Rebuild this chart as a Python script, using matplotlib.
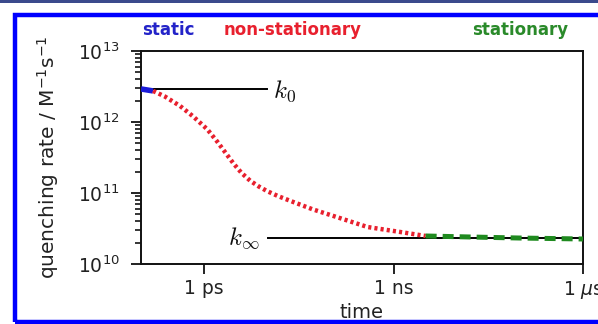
import matplotlib
matplotlib.use("Agg")
import matplotlib.pyplot as plt
from matplotlib.patches import Rectangle
from matplotlib.ticker import LogLocator, NullFormatter

plt.rcParams['mathtext.fontset'] = 'dejavusans'

# ---- data ----
t_static = [1.0e-13, 1.55e-13]
k_static = [2.92e12, 2.74e12]

t_nonstat = [1.55e-13, 2.40e-13, 4.16e-13, 6.68e-13, 1.12e-12, 1.61e-12, 2.20e-12,
             2.90e-12, 3.90e-12, 5.40e-12, 7.40e-12, 1.0e-11, 1.50e-11, 2.59e-11,
             5.20e-11, 1.12e-10, 3.86e-10, 1.29e-9, 3.22e-9]
k_nonstat = [2.74e12, 2.28e12, 1.68e12, 1.20e12, 7.90e11, 5.30e11, 3.65e11,
             2.62e11, 1.92e11, 1.48e11, 1.23e11, 1.06e11, 9.00e10, 7.46e10,
             5.90e10, 4.74e10, 3.32e10, 2.82e10, 2.48e10]

t_stat = [3.22e-9, 1.67e-8, 1.04e-7, 1.0e-6]
k_stat = [2.48e10, 2.40e10, 2.32e10, 2.25e10]

k0 = 2.9e12
k0_t = [1.0e-13, 1.0e-11]
kinf = 2.3e10
kinf_t = [1.04e-11, 1.0e-6]

xticks = [1e-12, 1e-9, 1e-6]
xticklabels = ['1 ps', '1 ns', r'1 $\mu$s']
yticks = [1e10, 1e11, 1e12, 1e13]
yticklabels = [r'$10^{10}$', r'$10^{11}$', r'$10^{12}$', r'$10^{13}$']

regimes = ['static', 'non-stationary', 'stationary']

# ---- figure ----
fig = plt.figure(figsize=(5.98, 3.24), dpi=100)
ax = fig.add_axes([141/598, 1-264/324, (583-141)/598, (264-51)/324])

ax.set_xscale('log')
ax.set_yscale('log')
ax.set_xlim(1e-13, 1e-6)
ax.set_ylim(1e10, 1e13)

ax.plot(k0_t, [k0, k0], color='black', lw=1.4, zorder=2)
ax.plot(kinf_t, [kinf, kinf], color='black', lw=1.4, zorder=2)

ax.plot(t_static, k_static, color='#1a1ad8', lw=4, solid_capstyle='butt', zorder=3)
ax.plot(t_nonstat, k_nonstat, color='#e8202e', lw=3.2, linestyle=(0, (0.7, 0.7)), zorder=3)
ax.plot(t_stat, k_stat, color='#1f8a1f', lw=3.6, linestyle=(0, (2.2, 1.2)), zorder=3)

ax.text(1.25e-11, k0 * 0.93, r'$k_0$', fontsize=18, va='center', ha='left',
        math_fontfamily='cm', color='#111111')
ax.text(7.4e-12, kinf, r'$k_\infty$', fontsize=18, va='center', ha='right',
        math_fontfamily='cm', color='#111111')

ax.set_xticks(xticks)
ax.set_xticklabels(xticklabels)
ax.xaxis.set_minor_locator(plt.NullLocator())
ax.set_yticks(yticks)
ax.set_yticklabels(yticklabels)
ax.yaxis.set_minor_locator(LogLocator(base=10, subs=range(2, 10), numticks=20))
ax.yaxis.set_minor_formatter(NullFormatter())

ax.tick_params(axis='both', which='major', direction='out', length=7.5, width=1.3,
               labelsize=13.5, colors='#111111', labelcolor='#222222')
ax.tick_params(axis='y', which='major', pad=8)
ax.tick_params(axis='y', which='minor', direction='out', length=4.5, width=1.1)
for s in ax.spines.values():
    s.set_linewidth(1.4)
    s.set_color('#111111')

ax.set_xlabel('time', fontsize=14, color='#222222', labelpad=1)
ax.set_ylabel(r'quenching rate / M$^{\mathsf{-1}}$s$^{\mathsf{-1}}$', fontsize=14.5,
              color='#222222', labelpad=12)

# regime labels
fig.text(168/598, 1-30/324, regimes[0], color='#2323c8', fontsize=12,
         fontweight='bold', ha='center', va='center')
fig.text(293/598, 1-30/324, regimes[1], color='#e8202e', fontsize=12,
         fontweight='bold', ha='center', va='center')
fig.text(520/598, 1-30/324, regimes[2], color='#2a8a2a', fontsize=12,
         fontweight='bold', ha='center', va='center')

# frame decorations
fig.patches.append(Rectangle((0, 1-3/324), 1, 3/324, transform=fig.transFigure,
                             facecolor='#3b4a8c', edgecolor='none', zorder=0))
fig.patches.append(Rectangle((15/598, 2/324), 1.0, 1-17/324, transform=fig.transFigure,
                             facecolor='none', edgecolor='#0000ff', lw=3.2, zorder=0))

fig.savefig('out.png', dpi=100)
